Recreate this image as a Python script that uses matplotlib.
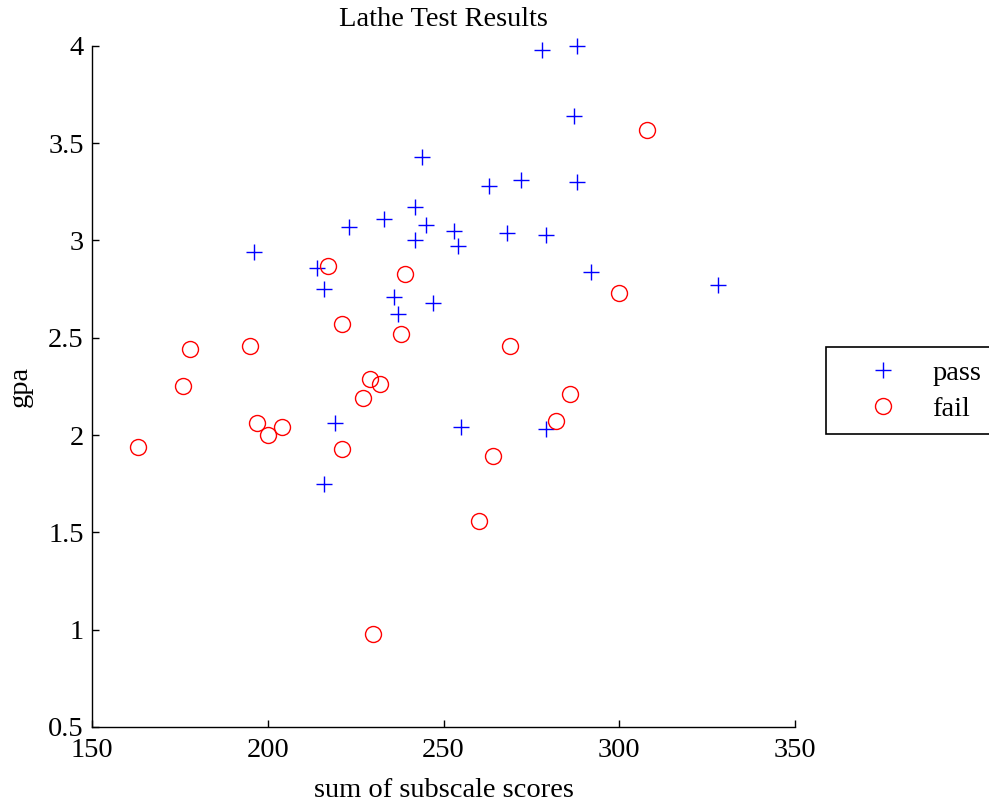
import matplotlib
matplotlib.use('Agg')
import matplotlib.pyplot as plt

# pass / fail data
pass_score = [278, 288, 287, 244, 263, 272, 288, 233, 242, 223, 245, 253, 254, 242,
              268, 279, 196, 214, 216, 236, 237, 247, 292, 328, 219, 255, 279, 216]
pass_gpa = [3.98, 4.00, 3.64, 3.43, 3.28, 3.31, 3.30, 3.11, 3.17, 3.07, 3.08, 3.05, 2.97, 3.00,
            3.04, 3.03, 2.94, 2.86, 2.75, 2.71, 2.62, 2.68, 2.84, 2.77, 2.06, 2.04, 2.03, 1.75]

fail_score = [163, 176, 178, 195, 197, 200, 204, 217, 239, 221, 238, 229, 232, 227,
              221, 230, 260, 264, 269, 282, 286, 300, 308]
fail_gpa = [1.94, 2.25, 2.44, 2.46, 2.06, 2.00, 2.04, 2.87, 2.83, 2.57, 2.52, 2.29, 2.26, 2.19,
            1.93, 0.98, 1.56, 1.89, 2.46, 2.07, 2.21, 2.73, 3.57]

plt.rcParams['font.family'] = ['Liberation Serif', 'DejaVu Serif']
fs = 20.5

fig = plt.figure(figsize=(9.89, 8.05), dpi=100)
ax = fig.add_axes([0.093, 0.097, 0.711, 0.846])

ax.plot(pass_score, pass_gpa, '+', color='#0000ff', markersize=12, markeredgewidth=1.0,
        label='pass', clip_on=False)
ax.plot(fail_score, fail_gpa, 'o', color='#ff0000', markerfacecolor='none', markersize=11.5,
        markeredgewidth=1.0, label='fail', clip_on=False)

ax.set_xlim(150, 350)
ax.set_ylim(0.5, 4)
ax.set_xticks([150, 200, 250, 300, 350])
ax.set_yticks([0.5, 1, 1.5, 2, 2.5, 3, 3.5, 4])
ax.set_yticklabels(['0.5', '1', '1.5', '2', '2.5', '3', '3.5', '4'])
ax.spines['top'].set_visible(False)
ax.spines['right'].set_visible(False)
for s in ['left', 'bottom']:
    ax.spines[s].set_linewidth(1.0)
ax.tick_params(direction='in', length=5, width=1, labelsize=fs)
ax.tick_params(axis='x', pad=8)
ax.tick_params(axis='y', pad=6)

ax.set_title('Lathe Test Results', fontsize=fs, pad=14)
ax.set_xlabel('sum of subscale scores', fontsize=fs, labelpad=11)
ax.set_ylabel('gpa', fontsize=fs, labelpad=11)

leg = ax.legend(loc='upper left', bbox_to_anchor=(0.835, 0.569), bbox_transform=fig.transFigure,
                borderaxespad=0, fancybox=False, edgecolor='black', framealpha=1,
                fontsize=fs, handlelength=3.1, handletextpad=0.2, labelspacing=0.35,
                borderpad=0.45)
leg.get_frame().set_linewidth(1.2)

fig.savefig('out.png', dpi=100)
